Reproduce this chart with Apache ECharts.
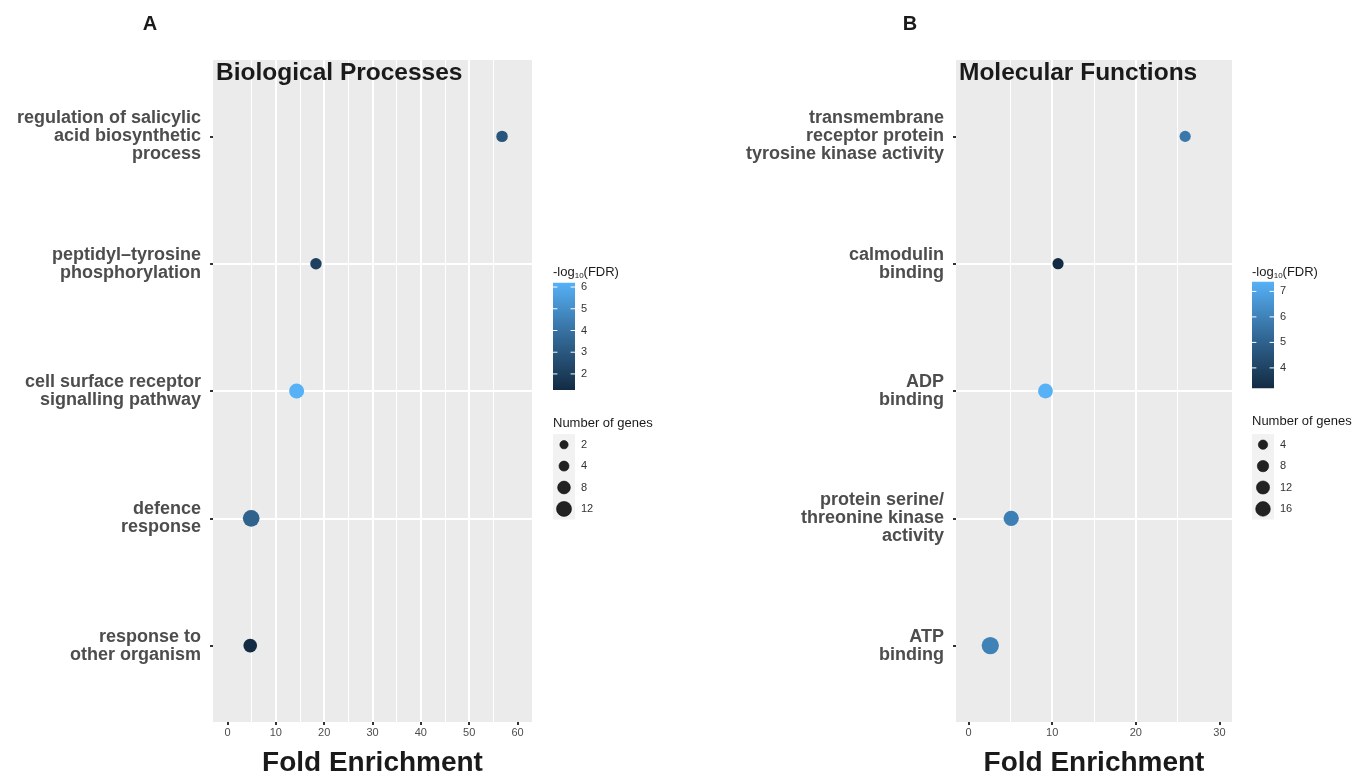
<!DOCTYPE html>
<html><head><meta charset="utf-8">
<script src="https://cdn.jsdelivr.net/npm/echarts@6/dist/echarts.min.js"></script>
<style>html,body{margin:0;padding:0;background:#fff}#c{width:1356px;height:776px}</style>
</head><body><div id="c"></div>
<script>
// ---- data ----
const bpTerms = ['regulation of salicylic\nacid biosynthetic\nprocess', 'peptidyl\u2013tyrosine\nphosphorylation', 'cell surface receptor\nsignalling pathway', 'defence\nresponse', 'response to\nother organism'];
const bpFold = [56.8, 18.3, 14.3, 4.9, 4.7];
const bpLogFdr = [2.9, 2.1, 6.2, 3.4, 1.26];
const bpGenes = [2, 2, 9, 13, 6];

const mfTerms = ['transmembrane\nreceptor protein\ntyrosine kinase activity', 'calmodulin\nbinding', 'ADP\nbinding', 'protein serine/\nthreonine kinase\nactivity', 'ATP\nbinding'];
const mfFold = [25.9, 10.7, 9.2, 5.1, 2.6];
const mfLogFdr = [5.7, 3.2, 7.38, 5.9, 6.0];
const mfGenes = [4, 4, 11, 12, 17];

const bpXTicks = [0, 10, 20, 30, 40, 50, 60];
const bpXMinor = [5, 15, 25, 35, 45, 55];
const mfXTicks = [0, 10, 20, 30];
const mfXMinor = [5, 15, 25];
const bpFdrTicks = [2, 3, 4, 5, 6];
const mfFdrTicks = [4, 5, 6, 7];
const bpSizeBreaks = [2, 4, 8, 12];
const mfSizeBreaks = [4, 8, 12, 16];

// ---- styling ----
const FONT = '"Liberation Sans", Arial, Helvetica, sans-serif';
const GRAD = ['#132B43', '#336A98', '#56B1F7'];

const panels = [
  { terms: bpTerms, fold: bpFold, fdr: bpLogFdr, genes: bpGenes, xMin: -3, xMax: 63,
    xTicks: bpXTicks, xMinor: bpXMinor, grid: { left: 213, top: 60, width: 319, height: 662 },
    title: 'Biological Processes', letter: 'A', letterX: 150, legendX: 553,
    cbTop: 282.7, cbBot: 390, fdrTicks: bpFdrTicks, sizeBreaks: bpSizeBreaks, sizeTitleY: 423, keyTop: 434,
    plotSize: n => Math.sqrt(105 + 13.4 * n), legendSize: n => Math.sqrt(38 + 15.6 * n) },
  { terms: mfTerms, fold: mfFold, fdr: mfLogFdr, genes: mfGenes, xMin: -1.5, xMax: 31.5,
    xTicks: mfXTicks, xMinor: mfXMinor, grid: { left: 956, top: 60, width: 276, height: 662 },
    title: 'Molecular Functions', letter: 'B', letterX: 910, legendX: 1252,
    cbTop: 281.7, cbBot: 388.3, fdrTicks: mfFdrTicks, sizeBreaks: mfSizeBreaks, sizeTitleY: 421, keyTop: 434,
    plotSize: n => Math.sqrt(71.5 + 13.4 * n), legendSize: n => Math.sqrt(45 + 10.6 * n) }
];

const grids = [], xAxes = [], yAxes = [], series = [], visualMaps = [], graphics = [];
const yVals = [1, 2, 3, 4, 5];

panels.forEach((p, i) => {
  grids.push(Object.assign({ show: true, backgroundColor: '#EBEBEB', borderWidth: 0, containLabel: false, outerBoundsMode: 'none' }, p.grid));
  xAxes.push({
    gridIndex: i, type: 'value', min: p.xMin, max: p.xMax, position: 'bottom',
    axisLine: { show: false, onZero: false },
    axisTick: { show: true, length: 3, customValues: p.xTicks, lineStyle: { color: '#333', width: 2 } },
    axisLabel: { customValues: p.xTicks, color: '#4d4d4d', fontSize: 11, margin: 5, fontFamily: FONT,
      formatter: v => p.xTicks.includes(v) ? String(v) : '' },
    splitLine: { show: true, showMinLine: false, showMaxLine: false, lineStyle: { color: '#fff', width: 2 } },
    name: 'Fold Enrichment', nameLocation: 'middle', nameGap: 27,
    nameTextStyle: { fontSize: 28, fontWeight: 'bold', color: '#1a1a1a', fontFamily: FONT }
  });
  yAxes.push({
    gridIndex: i, type: 'value', inverse: true, min: 0.4, max: 5.6, position: 'left',
    axisLine: { show: false, onZero: false },
    axisTick: { show: true, length: 3, customValues: yVals, lineStyle: { color: '#333', width: 2 } },
    axisLabel: { customValues: yVals, color: '#4d4d4d', fontSize: 18, fontWeight: 'bold', lineHeight: 18,
      align: 'right', margin: 12, fontFamily: FONT,
      formatter: v => (Number.isInteger(v) && p.terms[v - 1]) ? p.terms[v - 1] : '' },
    splitLine: { show: true, showMinLine: false, showMaxLine: false, lineStyle: { color: '#fff', width: 2 } }
  });
  // minor vertical gridlines
  series.push({
    type: 'scatter', xAxisIndex: i, yAxisIndex: i, data: [], silent: true, z: 1,
    markLine: { silent: true, z: 1, zlevel: 0, symbol: ['none', 'none'], label: { show: false }, animation: false,
      lineStyle: { color: '#fff', width: 1, type: 'solid' },
      emphasis: { disabled: true },
      data: p.xMinor.map(v => ({ xAxis: v })) }
  });
  const seriesIdx = series.length;
  series.push({
    type: 'scatter', xAxisIndex: i, yAxisIndex: i, z: 10,
    data: p.terms.map((t, k) => [p.fold[k], k + 1, p.fdr[k], p.genes[k]]),
    symbol: 'circle',
    symbolSize: d => p.plotSize(d[3]),
    itemStyle: { opacity: 1, borderWidth: 0 }
  });
  const mn = Math.min(...p.fdr), mx = Math.max(...p.fdr);
  visualMaps.push({ type: 'continuous', show: false, seriesIndex: seriesIdx, dimension: 2, min: mn, max: mx,
    inRange: { color: GRAD } });

  // panel letter & title
  graphics.push({ type: 'text', x: p.letterX, y: 24, style: { text: p.letter, font: 'bold 20px ' + FONT, fill: '#1a1a1a', align: 'center', verticalAlign: 'middle' } });
  graphics.push({ type: 'text', x: p.grid.left + 3, y: 73, z: 10, style: { text: p.title, font: 'bold 24.5px ' + FONT, fill: '#1a1a1a', align: 'left', verticalAlign: 'middle' } });

  // colour bar legend
  const lx = p.legendX, cbW = 22;
  graphics.push({ type: 'text', x: lx, y: 272, style: {
    text: '-log{s|10}(FDR)', font: '13px ' + FONT, fill: '#1a1a1a', align: 'left', verticalAlign: 'middle',
    rich: { s: { fontSize: 8, fontFamily: FONT, fill: '#1a1a1a', padding: [8, 0, 0, 0] } } } });
  graphics.push({ type: 'rect', shape: { x: lx, y: p.cbTop, width: cbW, height: p.cbBot - p.cbTop }, style: {
    fill: new echarts.graphic.LinearGradient(0, 1, 0, 0, [
      { offset: 0, color: GRAD[0] }, { offset: 0.5, color: GRAD[1] }, { offset: 1, color: GRAD[2] }]) } });
  p.fdrTicks.forEach(v => {
    const y = p.cbBot - (v - mn) / (mx - mn) * (p.cbBot - p.cbTop);
    graphics.push({ type: 'line', shape: { x1: lx, y1: y, x2: lx + 4.4, y2: y }, style: { stroke: '#fff', lineWidth: 1 } });
    graphics.push({ type: 'line', shape: { x1: lx + cbW - 4.4, y1: y, x2: lx + cbW, y2: y }, style: { stroke: '#fff', lineWidth: 1 } });
    graphics.push({ type: 'text', x: lx + cbW + 6, y: y, style: { text: String(v), font: '11px ' + FONT, fill: '#333', align: 'left', verticalAlign: 'middle' } });
  });

  // size legend
  graphics.push({ type: 'text', x: lx, y: p.sizeTitleY, style: { text: 'Number of genes', font: '13px ' + FONT, fill: '#1a1a1a', align: 'left', verticalAlign: 'middle' } });
  const keyH = 21.4;
  graphics.push({ type: 'rect', shape: { x: lx, y: p.keyTop, width: cbW, height: keyH * p.sizeBreaks.length }, style: { fill: '#F2F2F2' } });
  p.sizeBreaks.forEach((n, k) => {
    const cy = p.keyTop + keyH * (k + 0.5);
    graphics.push({ type: 'circle', shape: { cx: lx + cbW / 2, cy: cy, r: p.legendSize(n) / 2 }, style: { fill: '#222', stroke: '#111', lineWidth: 0.6 } });
    graphics.push({ type: 'text', x: lx + cbW + 6, y: cy, style: { text: String(n), font: '11px ' + FONT, fill: '#333', align: 'left', verticalAlign: 'middle' } });
  });
});

const chart = echarts.init(document.getElementById('c'), null, { renderer: 'canvas' });
chart.setOption({
  animation: false,
  backgroundColor: '#fff',
  textStyle: { fontFamily: FONT },
  grid: grids, xAxis: xAxes, yAxis: yAxes, series: series, visualMap: visualMaps,
  graphic: { elements: graphics }
});
</script>
</body></html>
